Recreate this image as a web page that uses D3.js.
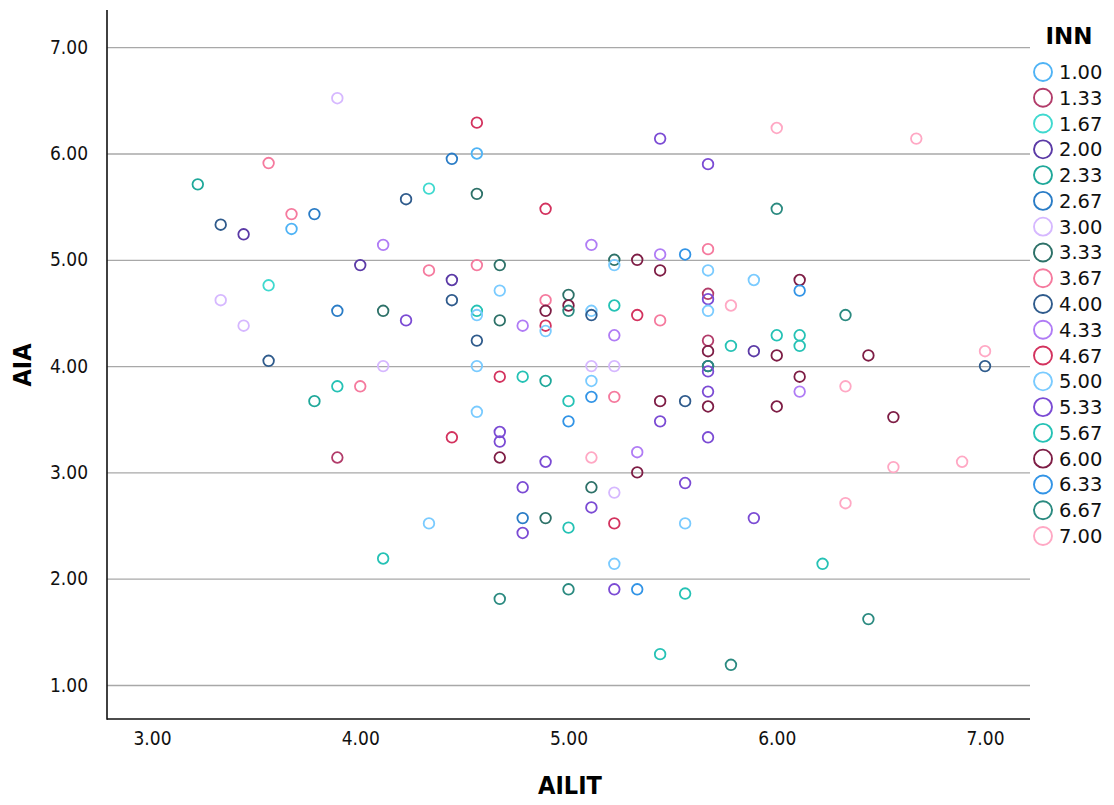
<!DOCTYPE html>
<html>
<head>
<meta charset="utf-8">
<script src="https://cdn.jsdelivr.net/npm/d3@7"></script>
<style>
  body { margin: 0; background: #fff; }
  svg text { font-family: "DejaVu Sans", sans-serif; }
</style>
</head>
<body>
<div id="chart"></div>
<script>
// INN categories and their colours
var innLevels = ["1.00","1.33","1.67","2.00","2.33","2.67","3.00","3.33","3.67","4.00",
                 "4.33","4.67","5.00","5.33","5.67","6.00","6.33","6.67","7.00"];
var innColors = ["#4fb3f5","#b23c6a","#3fd9cf","#5b3aa6","#1fa89a","#2a7cc6","#d6b8ff","#2d7168","#f57a9e","#2f5b8c",
                 "#b07cf5","#d3325e","#7acbff","#7b4bd4","#25c2b5","#7e1d45","#3294e6","#2b8a80","#ffa8c4"];

var xTicks = [3, 4, 5, 6, 7];
var yTicks = [1, 2, 3, 4, 5, 6, 7];

// AILIT (x), AIA (y), INN (category)
var ailit = [3.22,3.33,3.33,3.44,3.44,3.56,3.56,3.56,3.67,3.67,3.78,3.78,3.89,3.89,3.89,3.89,4.00,4.00,4.11,4.11,
             4.11,4.11,4.22,4.22,4.33,4.33,4.33,4.44,4.44,4.44,4.44,4.56,4.56,4.56,4.56,4.56,4.56,4.56,4.56,4.56,
             4.67,4.67,4.67,4.67,4.67,4.67,4.67,4.67,4.78,4.78,4.78,4.78,4.78,4.89,4.89,4.89,4.89,4.89,4.89,4.89,
             4.89,5.00,5.00,5.00,5.00,5.00,5.00,5.00,5.11,5.11,5.11,5.11,5.11,5.11,5.11,5.11,5.11,5.22,5.22,5.22,
             5.22,5.22,5.22,5.22,5.22,5.22,5.22,5.33,5.33,5.33,5.33,5.33,5.44,5.44,5.44,5.44,5.44,5.44,5.44,5.56,
             5.56,5.56,5.56,5.56,5.67,5.67,5.67,5.67,5.67,5.67,5.67,5.67,5.67,5.67,5.67,5.67,5.67,5.67,5.78,5.78,
             5.78,5.89,5.89,5.89,6.00,6.00,6.00,6.00,6.00,6.11,6.11,6.11,6.11,6.11,6.11,6.22,6.33,6.33,6.33,6.44,
             6.44,6.56,6.56,6.67,6.89,7.00,7.00];
var aia =   [5.71,5.33,4.62,5.24,4.38,5.91,4.76,4.05,5.43,5.29,5.43,3.67,6.52,4.52,3.81,3.14,4.95,3.81,5.14,4.52,
             4.00,2.19,5.57,4.43,5.67,4.90,2.52,5.95,4.81,4.62,3.33,6.29,6.00,5.62,4.95,4.52,4.48,4.24,4.00,3.57,
             4.95,4.71,4.43,3.90,3.38,3.29,3.14,1.81,4.38,3.90,2.86,2.57,2.43,5.48,4.62,4.52,4.38,4.33,3.86,3.10,
             2.57,4.67,4.57,4.52,3.67,3.48,2.48,1.90,5.14,4.52,4.48,4.00,3.86,3.71,3.14,2.86,2.67,5.00,4.95,4.57,
             4.29,4.00,3.71,2.81,2.52,2.14,1.90,5.00,4.48,3.19,3.00,1.90,6.14,5.05,4.90,4.43,3.67,3.48,1.29,5.05,
             3.67,2.90,2.52,1.86,5.90,5.10,4.90,4.68,4.63,4.52,4.24,4.14,4.00,4.00,3.95,3.76,3.62,3.33,4.57,4.19,
             1.19,4.81,4.14,2.57,6.24,5.48,4.29,4.10,3.62,4.81,4.71,4.29,4.19,3.90,3.76,2.14,4.48,3.81,2.71,4.10,
             1.62,3.52,3.05,6.14,3.10,4.14,4.00];
var inn =   [2.33,4.00,3.00,2.00,3.00,3.67,1.67,4.00,3.67,1.00,2.67,2.33,3.00,2.67,5.67,1.33,2.00,3.67,4.33,3.33,
             3.00,5.67,4.00,5.33,1.67,3.67,5.00,2.67,2.00,4.00,4.67,4.67,1.00,3.33,3.67,5.67,5.00,4.00,5.00,5.00,
             3.33,5.00,3.33,4.67,5.33,5.33,6.00,6.67,4.33,5.67,5.33,2.67,5.33,4.67,3.67,6.00,4.67,5.00,2.33,5.33,
             3.33,3.33,6.00,6.67,5.67,6.33,5.67,6.67,4.33,5.00,4.00,3.00,5.00,6.33,7.00,3.33,5.33,3.33,5.00,5.67,
             4.33,3.00,3.67,3.00,4.67,5.00,5.33,6.00,4.67,4.33,6.00,6.33,5.33,4.33,6.00,3.67,6.00,5.33,5.67,6.33,
             4.00,5.33,5.00,5.67,5.33,3.67,5.00,1.33,5.33,5.00,1.33,6.00,4.00,6.67,5.33,5.33,6.00,5.33,7.00,5.67,
             6.67,5.00,2.00,5.33,7.00,6.67,5.67,6.00,6.00,6.00,6.33,5.67,5.67,6.00,4.33,5.67,6.67,7.00,7.00,6.00,
             6.67,6.00,7.00,7.00,7.00,7.00,4.00];

var width = 1114,
    height = 805;
var margin = { left: 107, right: 1030, top: 10, bottom: 719 };

var svg = d3.select("#chart")
    .append("svg")
    .attr("width", width)
    .attr("height", height);

var x = d3.scaleLinear()
    .domain([2.784, 7.216])
    .range([margin.left, margin.right]);

var y = d3.scaleLinear()
    .domain([0.68, 7.35])
    .range([margin.bottom, margin.top]);

var color = d3.scaleOrdinal()
    .domain(innLevels)
    .range(innColors);

var tickFont = "'DejaVu Sans Condensed', 'DejaVu Sans', sans-serif";

// horizontal gridlines
svg.append("g")
    .attr("class", "grid")
    .attr("transform", "translate(" + margin.left + ",0)")
    .call(d3.axisLeft(y).tickValues(yTicks).tickSize(-(margin.right - margin.left)).tickFormat(""))
    .call(function(g) { g.select(".domain").remove(); })
    .selectAll("line")
    .attr("stroke", "#a8a8a8")
    .attr("stroke-width", 1.3);

// y axis labels
var yAxis = svg.append("g")
    .attr("transform", "translate(" + margin.left + ",0)")
    .call(d3.axisLeft(y).tickValues(yTicks).tickSize(0).tickPadding(19).tickFormat(d3.format(".2f")));
yAxis.select(".domain").remove();
yAxis.attr("font-size", 19).attr("font-family", tickFont);
yAxis.selectAll("text")
    .style("font-stretch", "condensed")
    .attr("fill", "#111");

// x axis labels
var xAxis = svg.append("g")
    .attr("transform", "translate(0," + margin.bottom + ")")
    .call(d3.axisBottom(x).tickValues(xTicks).tickSize(0).tickPadding(13).tickFormat(d3.format(".2f")));
xAxis.select(".domain").remove();
xAxis.attr("font-size", 19).attr("font-family", tickFont);
xAxis.selectAll("text")
    .style("font-stretch", "condensed")
    .attr("fill", "#111");

// axis lines
svg.append("line")
    .attr("x1", margin.left).attr("x2", margin.left)
    .attr("y1", margin.top).attr("y2", margin.bottom + 0.8)
    .attr("stroke", "#111").attr("stroke-width", 1.6);
svg.append("line")
    .attr("x1", margin.left).attr("x2", margin.right)
    .attr("y1", margin.bottom).attr("y2", margin.bottom)
    .attr("stroke", "#111").attr("stroke-width", 1.6);

// points
var pts = ailit.map(function(d, i) { return { x: d, y: aia[i], c: inn[i].toFixed(2) }; });
svg.append("g")
    .selectAll("circle")
    .data(pts)
    .enter()
    .append("circle")
    .attr("cx", function(d) { return x(d.x); })
    .attr("cy", function(d) { return y(d.y); })
    .attr("r", 5.3)
    .attr("fill", "none")
    .attr("stroke", function(d) { return color(d.c); })
    .attr("stroke-width", 1.8);

// axis titles
svg.append("text")
    .attr("x", 570)
    .attr("y", 794)
    .attr("text-anchor", "middle")
    .style("font-family", tickFont)
    .style("font-stretch", "condensed")
    .style("font-weight", "bold")
    .style("font-size", "25px")
    .text("AILIT");

svg.append("text")
    .attr("transform", "translate(31,365) rotate(-90)")
    .attr("text-anchor", "middle")
    .style("font-family", tickFont)
    .style("font-stretch", "condensed")
    .style("font-weight", "bold")
    .style("font-size", "25px")
    .text("AIA");

// legend
var legend = svg.append("g");
legend.append("text")
    .attr("x", 1069)
    .attr("y", 44)
    .attr("text-anchor", "middle")
    .style("font-weight", "bold")
    .style("font-size", "23px")
    .text("INN");

var ly = d3.scalePoint()
    .domain(innLevels)
    .range([72, 536]);

var item = legend.selectAll("g.item")
    .data(innLevels)
    .enter()
    .append("g")
    .attr("class", "item")
    .attr("transform", function(d) { return "translate(0," + ly(d) + ")"; });

item.append("circle")
    .attr("cx", 1043)
    .attr("cy", 0)
    .attr("r", 9)
    .attr("fill", "none")
    .attr("stroke", function(d) { return color(d); })
    .attr("stroke-width", 1.9);

item.append("text")
    .attr("x", 1059)
    .attr("y", 7)
    .style("font-size", "19.5px")
    .attr("fill", "#111")
    .text(function(d) { return d; });
</script>
</body>
</html>
